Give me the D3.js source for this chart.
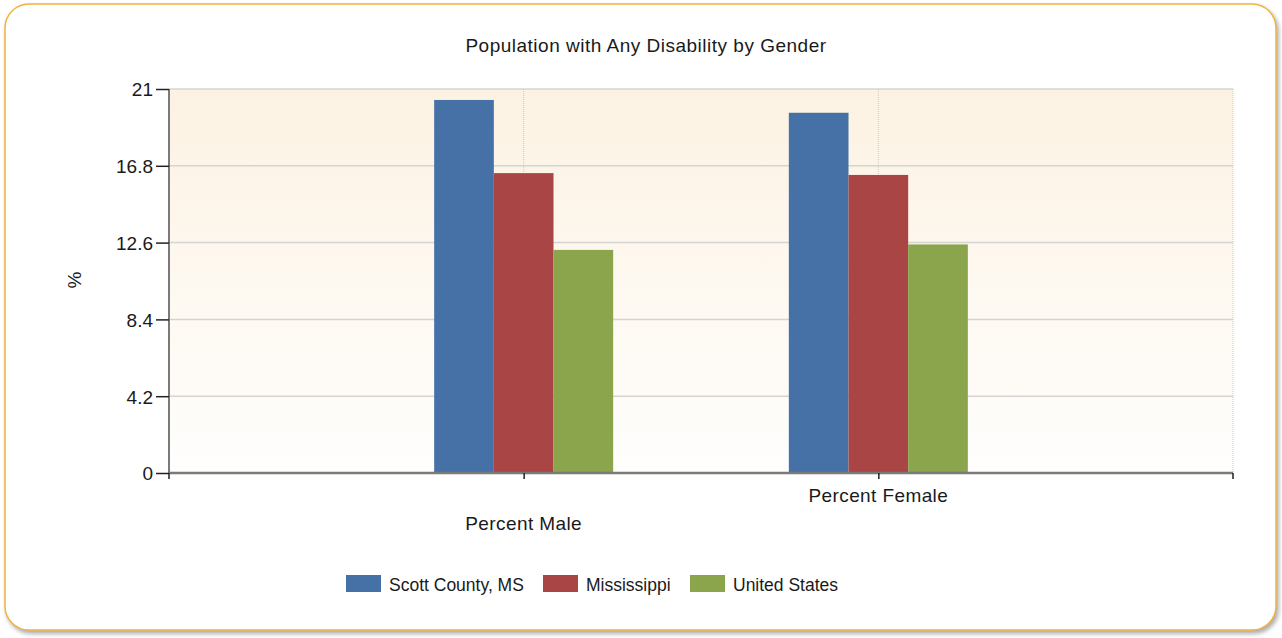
<!DOCTYPE html>
<html>
<head>
<meta charset="utf-8">
<script src="https://cdn.jsdelivr.net/npm/d3@7"></script>
<style>
    body { margin: 0; background: #fff; }
    svg text { font-family: "Liberation Sans", Arial, sans-serif; fill: #1a1a1a; }
</style>
</head>
<body>
<svg id="chart"></svg>
<script>
const categories = ['Percent Male', 'Percent Female'];
const seriesNames = ['Scott County, MS', 'Mississippi', 'United States'];
const scottCounty = [20.4, 19.7];
const mississippi = [16.4, 16.3];
const unitedStates = [12.2, 12.5];
const yTicks = [0, 4.2, 8.4, 12.6, 16.8, 21];
const colors = ['#4571a6', '#a94544', '#8aa54c'];

const svgW = 1282, svgH = 638;
const plot = { left: 169, right: 1233, top: 89, bottom: 473 };
const svgE = d3.select('#chart').attr('width', svgW).attr('height', svgH);

const defs = svgE.append('defs');
const grad = defs.append('linearGradient').attr('id', 'bg').attr('x1', 0).attr('y1', 0).attr('x2', 0).attr('y2', 1);
grad.append('stop').attr('offset', '0%').attr('stop-color', '#fcf2e2');
grad.append('stop').attr('offset', '100%').attr('stop-color', '#fffefd');
const sh = defs.append('filter').attr('id', 'shadow').attr('x', '-5%').attr('y', '-5%').attr('width', '110%').attr('height', '115%');
sh.append('feDropShadow').attr('dx', 2).attr('dy', 3).attr('stdDeviation', 2).attr('flood-color', '#888').attr('flood-opacity', 0.7);

// outer frame
svgE.append('rect')
    .attr('x', 5).attr('y', 4).attr('width', 1271).attr('height', 626)
    .attr('rx', 24).attr('ry', 24)
    .attr('fill', '#fff').attr('stroke', '#f0b43c').attr('stroke-width', 1.5)
    .attr('filter', 'url(#shadow)');

const yScale = d3.scaleLinear().domain([0, 21]).range([plot.bottom, plot.top]);
const xScale = d3.scalePoint().domain(categories).range([plot.left, plot.right]).padding(1);
const groupW = 179;
const inner = d3.scaleBand().domain(seriesNames).range([-groupW / 2, groupW / 2]);

svgE.append('rect')
    .attr('x', plot.left).attr('y', plot.top)
    .attr('width', plot.right - plot.left).attr('height', plot.bottom - plot.top)
    .attr('fill', 'url(#bg)');

// horizontal grid
svgE.append('g').selectAll('line').data(yTicks.slice(1)).join('line')
    .attr('x1', plot.left).attr('x2', plot.right)
    .attr('y1', d => yScale(d)).attr('y2', d => yScale(d))
    .attr('stroke', '#d4d4d4').attr('stroke-width', 1.5);

// vertical dotted grid
svgE.append('g').selectAll('line').data(categories.map(c => xScale(c)).concat([plot.right])).join('line')
    .attr('x1', d => d).attr('x2', d => d)
    .attr('y1', plot.top).attr('y2', plot.bottom)
    .attr('stroke', '#c8c8c8').attr('stroke-dasharray', '1,1');

// bars
const values = [scottCounty, mississippi, unitedStates];
seriesNames.forEach((s, si) => {
    svgE.append('g').selectAll('rect').data(categories).join('rect')
        .attr('x', (c) => xScale(c) + inner(s))
        .attr('y', (c, i) => yScale(values[si][i]))
        .attr('width', inner.bandwidth())
        .attr('height', (c, i) => plot.bottom - yScale(values[si][i]))
        .attr('fill', colors[si]);
});

// y axis
const yAxis = d3.axisLeft(yScale).tickValues(yTicks).tickFormat(d => String(d)).tickSize(13).tickPadding(3);
const yG = svgE.append('g').attr('transform', `translate(${plot.left},0)`).call(yAxis);
yG.select('.domain').attr('stroke', '#7a7a7a').attr('stroke-width', 2).attr('d', `M0,${plot.top}V${plot.bottom + 1}`);
yG.selectAll('.tick line').attr('stroke', '#222').attr('stroke-width', 1.5);
yG.selectAll('.tick text').style('font-size', '19px').attr('fill', '#1a1a1a').attr('dy', '0.36em');

// x axis
const xAxis = d3.axisBottom(xScale).tickSize(6).tickFormat('');
const xG = svgE.append('g').attr('transform', `translate(0,${plot.bottom})`).call(xAxis);
xG.select('.domain').attr('stroke', '#7a7a7a').attr('stroke-width', 2.5).attr('d', `M${plot.left},0H${plot.right}`);
xG.selectAll('.tick line').attr('stroke', '#222').attr('stroke-width', 1.5);
xG.selectAll('.end').data([plot.left, plot.right]).join('line')
    .attr('x1', d => d).attr('x2', d => d).attr('y1', 0).attr('y2', 6)
    .attr('stroke', '#222').attr('stroke-width', 1.5);
svgE.append('g').selectAll('text').data(categories).join('text')
    .attr('x', c => xScale(c))
    .attr('y', (c, i) => i === 0 ? 530 : 502)
    .attr('text-anchor', 'middle')
    .style('font-size', '19px').style('letter-spacing', '0.4px')
    .text(c => c);

// title and y label
svgE.append('text').attr('x', 646).attr('y', 52).attr('text-anchor', 'middle')
    .style('font-size', '19px').style('letter-spacing', '0.5px')
    .text('Population with Any Disability by Gender');
svgE.append('text').attr('transform', 'translate(81,280) rotate(-90)').attr('text-anchor', 'middle')
    .style('font-size', '19px').text('%');

// legend
const legendX = [346, 543, 690];
const lg = svgE.append('g').selectAll('g').data(seriesNames).join('g')
    .attr('transform', (d, i) => `translate(${legendX[i]},575)`);
lg.append('rect').attr('width', 35).attr('height', 17).attr('fill', (d, i) => colors[i]);
lg.append('text').attr('x', 43).attr('y', 16).style('font-size', '17.5px').text(d => d);
</script>
</body>
</html>
